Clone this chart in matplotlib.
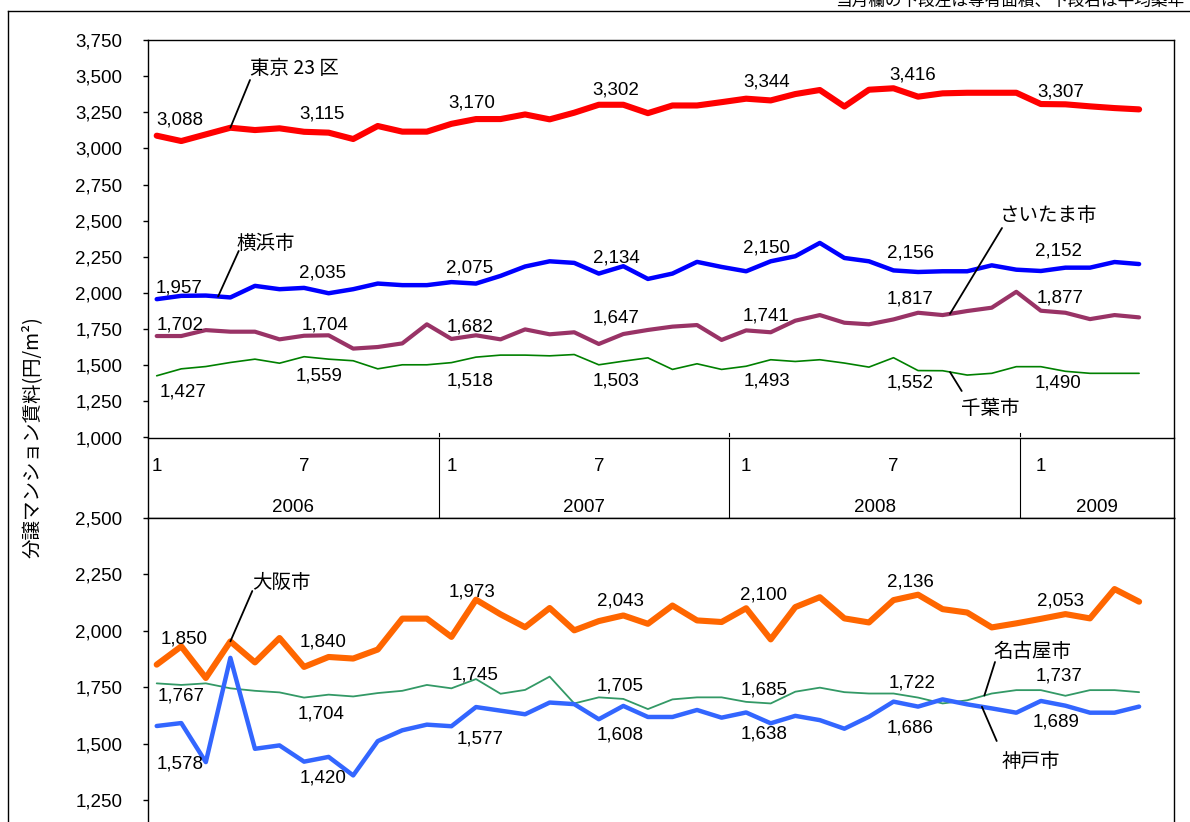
import numpy as np
import matplotlib
matplotlib.use("Agg")
import matplotlib.pyplot as plt
from matplotlib.lines import Line2D
from matplotlib.ticker import FixedLocator, FuncFormatter

plt.rcParams['font.family'] = ['Liberation Sans', 'Noto Sans CJK JP', 'DejaVu Sans']

# ---------------- data ----------------
months = list(range(41))   # Jan 2006 .. May 2009
month_ticks = [0, 6, 12, 18, 24, 30, 36]
month_tick_labels = ['1', '7', '1', '7', '1', '7', '1']
years = ['2006', '2007', '2008', '2009']

tokyo = [3088, 3051, 3097, 3143, 3127, 3139, 3115, 3109, 3065, 3155, 3116, 3116, 3170, 3203,
         3203, 3235, 3201, 3247, 3302, 3302, 3244, 3297, 3297, 3320, 3344, 3332, 3376, 3404,
         3290, 3406, 3416, 3358, 3381, 3385, 3385, 3385, 3307, 3305, 3291, 3279, 3270]
yokohama = [1957, 1980, 1982, 1969, 2049, 2026, 2035, 1998, 2026, 2065, 2054, 2054, 2075, 2065,
            2118, 2183, 2219, 2208, 2134, 2185, 2097, 2134, 2215, 2180, 2150, 2219, 2254, 2346,
            2242, 2219, 2156, 2145, 2150, 2150, 2191, 2161, 2152, 2175, 2175, 2214, 2200]
saitama = [1702, 1702, 1743, 1732, 1732, 1679, 1704, 1707, 1615, 1626, 1651, 1783, 1682, 1707,
           1679, 1748, 1714, 1728, 1647, 1716, 1744, 1767, 1778, 1675, 1741, 1728, 1808, 1847,
           1794, 1783, 1817, 1863, 1847, 1875, 1898, 2008, 1877, 1863, 1819, 1847, 1831]
chiba = [1427, 1475, 1491, 1519, 1542, 1514, 1559, 1542, 1531, 1475, 1503, 1503, 1518, 1556,
         1570, 1570, 1565, 1574, 1503, 1528, 1551, 1471, 1510, 1471, 1493, 1538, 1526, 1538,
         1515, 1487, 1552, 1463, 1462, 1432, 1444, 1490, 1490, 1458, 1444, 1444, 1444]
osaka = [1850, 1931, 1791, 1953, 1860, 1968, 1840, 1884, 1877, 1917, 2054, 2054, 1973, 2138,
         2073, 2016, 2101, 2002, 2043, 2068, 2031, 2112, 2046, 2039, 2100, 1962, 2105, 2149,
         2055, 2037, 2136, 2160, 2096, 2081, 2015, 2033, 2053, 2074, 2055, 2185, 2129]
nagoya = [1767, 1760, 1767, 1745, 1734, 1727, 1704, 1717, 1709, 1724, 1734, 1760, 1745, 1786,
          1721, 1738, 1797, 1678, 1705, 1698, 1653, 1696, 1705, 1705, 1685, 1678, 1730, 1748,
          1728, 1722, 1722, 1704, 1678, 1692, 1722, 1737, 1737, 1712, 1737, 1737, 1728]
kobe = [1578, 1591, 1418, 1880, 1477, 1492, 1420, 1441, 1359, 1511, 1559, 1584, 1577, 1662,
        1646, 1630, 1682, 1675, 1608, 1667, 1618, 1618, 1649, 1615, 1638, 1590, 1623, 1604,
        1566, 1619, 1686, 1664, 1696, 1674, 1656, 1637, 1689, 1668, 1637, 1637, 1664]

names = {'tokyo': '東京 23 区', 'yokohama': '横浜市', 'saitama': 'さいたま市', 'chiba': '千葉市',
         'osaka': '大阪市', 'nagoya': '名古屋市', 'kobe': '神戸市'}
note = '当月欄の下段左は専有面積、下段右は平均築年'
ylabel = '分譲マンション賃料(円/m²)'

# ---------------- layout helpers ----------------
W, H = 1190, 822
fig = plt.figure(figsize=(W / 100, H / 100), dpi=100)


def rect(l, t, r, b):
    return [l / W, 1 - b / H, (r - l) / W, (b - t) / H]


def P(x, y):
    return (x / W, 1 - y / H)


XL, XR = 148, 1174
X0, DX = 156.7, 24.56
xlim = ((XL - X0) / DX, (XR - X0) / DX)

ax_top = fig.add_axes(rect(XL, 40, XR, 437.5))
ax_tab = fig.add_axes(rect(XL, 437.5, XR, 518))
ax_bot = fig.add_axes(rect(XL, 518, XR, 822))

fmt = FuncFormatter(lambda v, p: f"{v:,.0f}")
for ax in (ax_top, ax_bot):
    ax.set_xlim(*xlim)
    ax.set_xticks([])
    ax.yaxis.set_major_formatter(fmt)
    ax.tick_params(axis='y', direction='out', length=3.6, width=1, pad=15,
                   labelsize=13.5, colors='black')
    for s in ax.spines.values():
        s.set_linewidth(1.0)
        s.set_color('black')

ax_top.set_ylim(1000, 3750)
ax_top.yaxis.set_major_locator(FixedLocator(np.arange(1000, 3751, 250)))
ax_top.spines['bottom'].set_visible(False)

low = 2500 - (822 - 518) * 1250 / 282.0
ax_bot.set_ylim(low, 2500)
ax_bot.yaxis.set_major_locator(FixedLocator(np.arange(1250, 2501, 250)))
ax_bot.spines['bottom'].set_visible(False)

# table of months / years
ax_tab.set_xlim(*xlim)
ax_tab.set_ylim(0, 1)
ax_tab.set_xticks([])
ax_tab.set_yticks([])
for s in ax_tab.spines.values():
    s.set_linewidth(1.0)
    s.set_color('black')
dividers = [0.2833, 0.5667, 0.85]
for d in dividers:
    ax_tab.plot([d, d], [0, 1], transform=ax_tab.transAxes, color='black', lw=0.8)
    ax_top.plot([d, d], [0, 0.012], transform=ax_top.transAxes, color='black', lw=0.8)
for m, lab in zip(month_ticks, month_tick_labels):
    ax_tab.text(m, 0.64, lab, ha='center', va='center', fontsize=13.5)
bounds = [0] + dividers + [1]
for k, yr in enumerate(years):
    ax_tab.text((bounds[k] + bounds[k + 1]) / 2, 0.13, yr, ha='center', va='center',
                fontsize=13.5, transform=ax_tab.transAxes)

# ---------------- series ----------------
styles = {
    'tokyo': dict(color='#FF0000', lw=4.4),
    'yokohama': dict(color='#0000FF', lw=3.2),
    'saitama': dict(color='#993366', lw=3.0),
    'chiba': dict(color='#008000', lw=1.2),
    'osaka': dict(color='#FF6600', lw=4.4),
    'nagoya': dict(color='#339966', lw=1.3),
    'kobe': dict(color='#3366FF', lw=3.2),
}
series = {'tokyo': tokyo, 'yokohama': yokohama, 'saitama': saitama, 'chiba': chiba,
          'osaka': osaka, 'nagoya': nagoya, 'kobe': kobe}
axes_of = {'tokyo': ax_top, 'yokohama': ax_top, 'saitama': ax_top, 'chiba': ax_top,
           'osaka': ax_bot, 'nagoya': ax_bot, 'kobe': ax_bot}
for key in ['chiba', 'saitama', 'yokohama', 'tokyo', 'nagoya', 'kobe', 'osaka']:
    axes_of[key].plot(months, series[key], solid_joinstyle='round', solid_capstyle='round',
                      **styles[key])

# data labels: offsets (dx, dy) in image pixels (dy positive = down)
label_offsets = {
    'tokyo': [(0, -16), (-5, -18), (-3, -21), (-6, -15), (-3, -17), (-4, -13), (-4, -12)],
    'yokohama': [(-1, -11), (-5, -15), (-5, -14), (-6, -15.5), (-3, -23), (-6, -17), (-6, -19.5)],
    'saitama': [(0, -11), (-2, -11), (-5, -11.5), (-6, -26), (-4, -14), (-7, -20), (-4, -13)],
    'chiba': [(3, 16.5), (-8, 19), (-5, 18), (-6, 16.5), (-3, 15), (-7, 25), (-6, 16)],
    'osaka': [(4, -26), (-4, -25), (-3, -45), (-2, -20), (-6, -13), (-6, -18), (-4, -18)],
    'nagoya': [(1, 13), (-6, 16.5), (0, -13), (-2, -11), (-6, -12), (-5, -11), (-5, -14)],
    'kobe': [(0, 38), (-4, 16.7), (5, 13), (-2, 16), (-6, 21.5), (-7, 26), (-8, 21)],
}
for key, offs in label_offsets.items():
    ax = axes_of[key]
    vals = series[key]
    for m, (dx, dy) in zip(month_ticks, offs):
        ax.annotate(f"{vals[m]:,}", xy=(m, vals[m]), xytext=(dx, -dy),
                    textcoords='offset pixels', ha='left', va='center', fontsize=13.5)

# series name callouts: text position (left, center-y) and leader start in image px,
# leader end at a fractional month on the series
callouts = {
    'tokyo': ((250, 68), (250, 80), 3.0),
    'yokohama': ((236.7, 243), (238.7, 251), 2.5),
    'saitama': ((1000, 215), (1002, 228), 32.3),
    'chiba': ((961, 408), (961.7, 391), 32.3),
    'osaka': ((251.7, 582), (252.3, 591), 3.0),
    'nagoya': ((993, 651), (995, 662), 33.7),
    'kobe': ((1001.7, 761), (996.7, 741), 33.6),
}
for key, (tpos, lstart, idx) in callouts.items():
    ax = axes_of[key]
    yv = float(np.interp(idx, months, series[key]))
    ax.annotate('', xy=(idx, yv), xycoords='data', xytext=P(*lstart),
                textcoords='figure fraction',
                arrowprops=dict(arrowstyle='-', color='black', lw=1.3, shrinkA=0, shrinkB=0))
    fig.text(*P(*tpos), names[key], ha='left', va='center', fontsize=14,
             family=['Noto Sans CJK JP', 'Liberation Sans'])

# y label
fig.text(*P(32, 437), ylabel, rotation=90, ha='center', va='center', fontsize=14,
         family=['Noto Sans CJK JP', 'DejaVu Sans'])

# outer frame (left and top edges) and the note at top right (clipped as in the source)
fig.add_artist(Line2D([P(8, 11)[0], 1.0], [P(8, 11)[1]] * 2, transform=fig.transFigure,
                      color='black', lw=1.0))
fig.add_artist(Line2D([P(8, 11)[0]] * 2, [P(8, 11)[1], 0.0], transform=fig.transFigure,
                      color='black', lw=1.0))
fig.text(*P(1184, 6), note, ha='right', va='baseline', fontsize=12,
         family=['Noto Sans CJK JP', 'DejaVu Sans'])

fig.savefig('out.png', dpi=100)
